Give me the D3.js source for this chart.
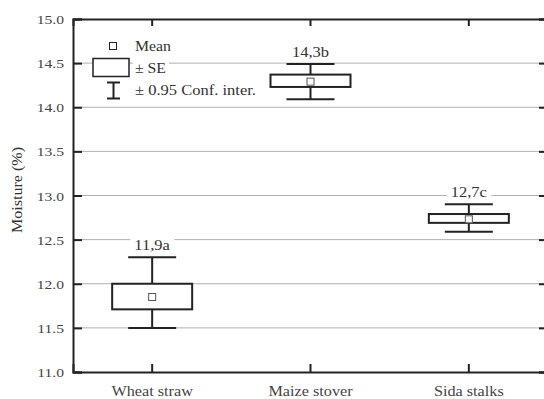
<!DOCTYPE html>
<html>
<head>
<meta charset="utf-8">
<script src="https://cdn.jsdelivr.net/npm/d3@7"></script>
<style>
  body { margin: 0; background: #fff; }
  svg text { font-family: "Liberation Serif", "Times New Roman", serif !important; }
</style>
</head>
<body>
<div id="chart"></div>
<script>
// data
const categories = ["Wheat straw", "Maize stover", "Sida stalks"]
const means = [11.85, 14.29, 12.73]
const seLow = [11.71, 14.23, 12.69]
const seHigh = [12.0, 14.37, 12.79]
const ciLow = [11.5, 14.09, 12.59]
const ciHigh = [12.3, 14.49, 12.9]
const groupLabels = ["11,9a", "14,3b", "12,7c"]
const yTicks = [11.0, 11.5, 12.0, 12.5, 13.0, 13.5, 14.0, 14.5, 15.0]

function drawChart() {
  let dimensions = {
    width: 544,
    height: 399,
    margin: { top: 19, right: -4, bottom: 27, left: 73 },
  }
  dimensions.boundedWidth = dimensions.width - dimensions.margin.left - dimensions.margin.right
  dimensions.boundedHeight = dimensions.height - dimensions.margin.top - dimensions.margin.bottom

  const dataset = categories.map((c, i) => ({
    name: c, mean: means[i], seLow: seLow[i], seHigh: seHigh[i],
    ciLow: ciLow[i], ciHigh: ciHigh[i], label: groupLabels[i],
  }))

  const wrapper = d3.select("#chart").append("svg")
      .attr("width", dimensions.width)
      .attr("height", dimensions.height)

  const bounds = wrapper.append("g")
      .attr("transform", `translate(${dimensions.margin.left},${dimensions.margin.top})`)

  const xScale = d3.scaleBand()
    .domain(categories)
    .range([0, dimensions.boundedWidth])

  const yScale = d3.scaleLinear()
    .domain([11, 15])
    .range([dimensions.boundedHeight, 0])

  const xMid = d => xScale(d.name) + xScale.bandwidth() / 2
  const ink = "#222"

  // text in the original is a bit wider than plain Times, stretch it
  const stretch = (sel, k) => sel.each(function() {
    const w = this.getComputedTextLength()
    d3.select(this).attr("textLength", w * k).attr("lengthAdjust", "spacingAndGlyphs")
  })

  // gridlines
  bounds.append("g")
    .selectAll("line")
    .data(yTicks.filter(t => t > 11 && t < 15))
    .join("line")
      .attr("x1", 0)
      .attr("x2", dimensions.boundedWidth)
      .attr("y1", d => yScale(d))
      .attr("y2", d => yScale(d))
      .attr("stroke", "#b0b0b0")
      .attr("stroke-width", 1)

  // axes (inward ticks)
  const yAxisLeft = bounds.append("g")
    .call(d3.axisLeft(yScale).tickValues(yTicks).tickFormat(d3.format(".1f")).tickSize(-9).tickPadding(9))
  const yAxisRight = bounds.append("g")
    .attr("transform", `translate(${dimensions.boundedWidth},0)`)
    .call(d3.axisRight(yScale).tickValues(yTicks).tickSize(-9).tickFormat(""))
  const xAxisBottom = bounds.append("g")
    .attr("transform", `translate(0,${dimensions.boundedHeight})`)
    .call(d3.axisBottom(xScale).tickSize(-8).tickPadding(13))
  const xAxisTop = bounds.append("g")
    .call(d3.axisTop(xScale).tickSize(-7).tickFormat(""))

  ;[yAxisLeft, yAxisRight, xAxisBottom, xAxisTop].forEach(ax => {
    ax.attr("font-family", null).attr("font-size", null)
    ax.select(".domain").attr("stroke", ink).attr("stroke-width", 2)
    ax.selectAll(".tick line").attr("stroke", ink).attr("stroke-width", 2)
    ax.selectAll("text")
      .attr("fill", "#444")
  })
  yAxisLeft.selectAll("text").attr("font-size", 13).attr("dy", "0.35em").call(stretch, 1.2)
  xAxisBottom.selectAll("text").attr("font-size", 15).call(stretch, 1.08)

  // boxes
  const groups = bounds.append("g")
    .selectAll("g")
    .data(dataset)
    .join("g")

  groups.append("line")
      .attr("x1", xMid).attr("x2", xMid)
      .attr("y1", d => yScale(d.ciLow))
      .attr("y2", d => yScale(d.ciHigh))
      .attr("stroke", ink).attr("stroke-width", 2)

  ;["ciLow", "ciHigh"].forEach(k => {
    groups.append("line")
        .attr("x1", d => xMid(d) - 24).attr("x2", d => xMid(d) + 24)
        .attr("y1", d => yScale(d[k])).attr("y2", d => yScale(d[k]))
        .attr("stroke", ink).attr("stroke-width", 2)
  })

  groups.append("rect")
      .attr("x", d => xMid(d) - 40)
      .attr("width", 80)
      .attr("y", d => yScale(d.seHigh))
      .attr("height", d => yScale(d.seLow) - yScale(d.seHigh))
      .attr("fill", "#fff")
      .attr("stroke", ink).attr("stroke-width", 2)

  groups.append("rect")
      .attr("x", d => xMid(d) - 3.5)
      .attr("y", d => yScale(d.mean) - 3.5)
      .attr("width", 7).attr("height", 7)
      .attr("fill", "#fff")
      .attr("stroke", "#555").attr("stroke-width", 1)

  // group labels with white background
  groups.each(function(d) {
    const g = d3.select(this)
    const bg = g.append("rect").attr("fill", "#fff")
    const t = g.append("text")
        .attr("x", xMid(d))
        .attr("y", yScale(d.ciHigh) - 7)
        .attr("text-anchor", "middle")
        .attr("font-size", 15)
        .attr("fill", "#333")
        .text(d.label)
        .call(stretch, 1.1)
    const bb = t.node().getBBox()
    bg.attr("x", bb.x - 4).attr("y", bb.y).attr("width", bb.width + 8).attr("height", bb.height)
  })

  // legend
  const legend = wrapper.append("g")
  legend.append("rect")
      .attr("x", 109.5).attr("y", 42.5).attr("width", 7).attr("height", 7)
      .attr("fill", "#fff").attr("stroke", ink).attr("stroke-width", 1)
  legend.append("rect")
      .attr("x", 93).attr("y", 58.5).attr("width", 36).attr("height", 18)
      .attr("fill", "#fff").attr("stroke", ink).attr("stroke-width", 1.5)
  legend.append("path")
      .attr("d", "M107,82.5H120M113.5,82.5V98.5M107,98.5H120")
      .attr("fill", "none").attr("stroke", ink).attr("stroke-width", 2)

  const legendText = [["Mean", 51, 36], ["\u00b1 SE", 72.5, 31], ["\u00b1 0.95 Conf. inter.", 95, 121]]
  legendText.forEach(([txt, y, len]) => {
    const t = legend.append("text")
        .attr("x", 135).attr("y", y)
        .attr("font-size", 14)
        .attr("fill", "#333")
        .attr("textLength", len)
        .attr("lengthAdjust", "spacingAndGlyphs")
        .text(txt)
    const bb = t.node().getBBox()
    legend.insert("rect", "text")
        .attr("x", bb.x - 2).attr("y", bb.y).attr("width", bb.width + 5).attr("height", bb.height)
        .attr("fill", "#fff")
  })

  // y axis title
  wrapper.append("text")
      .attr("transform", "translate(22,190) rotate(-90)")
      .attr("text-anchor", "middle")
      .attr("font-size", 14)
      .attr("fill", "#333")
      .attr("textLength", 86)
      .attr("lengthAdjust", "spacingAndGlyphs")
      .text("Moisture (%)")
}

drawChart()
</script>
</body>
</html>
